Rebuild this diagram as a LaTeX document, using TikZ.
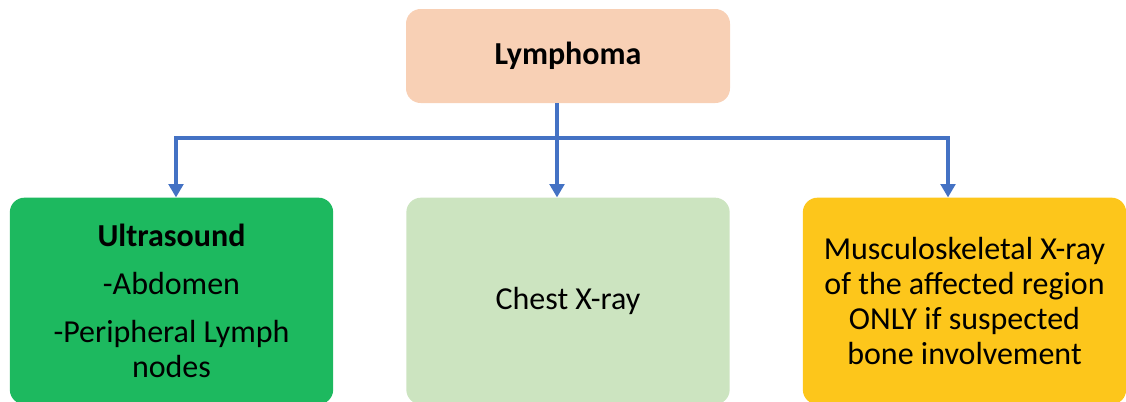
\documentclass[tikz,border=0pt]{standalone}
\usepackage{fontspec}
\setmainfont{Carlito}
\usetikzlibrary{arrows.meta}
\definecolor{peach}{HTML}{F8D0B5}
\definecolor{usgreen}{HTML}{1DB95F}
\definecolor{palegreen}{HTML}{CCE4C0}
\definecolor{amber}{HTML}{FDC61B}
\definecolor{linkblue}{HTML}{4472C4}
\begin{document}
\begin{tikzpicture}[x=0.75pt,y=-0.75pt,
  box/.style={rounded corners=11pt, align=center, inner sep=0pt,
    font=\fontsize{24}{26.2}\selectfont},
  topbox/.style={box, fill=peach, minimum width=243pt, minimum height=70.5pt},
  lowbox/.style={box, minimum width=242.5pt, minimum height=155pt},
  link/.style={draw=linkblue, line width=2.3pt,
    -{Triangle[length=10pt,width=11pt]}}]
  \useasboundingbox (0,0) rectangle (1126,401);
  \clip (0,0) rectangle (1126,401);

  \node[topbox] (lym) at (568,56) {\textbf{Lymphoma}};
  \node[lowbox, fill=usgreen] (us) at (171.5,301)
    {\textbf{Ultrasound}\\[10pt]-Abdomen\\[10pt]-Peripheral Lymph\\nodes};
  \node[lowbox, fill=palegreen] (cxr) at (568,301) {Chest X-ray};
  \node[lowbox, fill=amber] (msk) at (964.5,301)
    {Musculoskeletal X-ray\\of the affected region\\ONLY if suspected\\bone involvement};

  \coordinate (split) at (557,138);
  \draw[link] (lym.south -| split) -- (cxr.north -| split);
  \draw[link] (split) -| (us.north -| 176,0);
  \draw[link] (split) -| (msk.north -| 948,0);
\end{tikzpicture}
\end{document}
